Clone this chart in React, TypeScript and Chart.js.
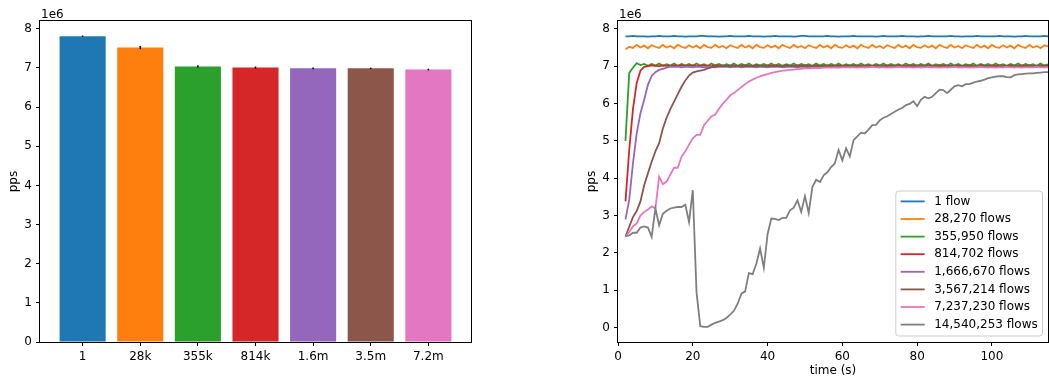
import React, { useEffect, useRef } from 'react';
import { Chart, registerables } from 'chart.js';

Chart.register(...registerables);

const FONT = '"DejaVu Sans", sans-serif';
const TAB10 = ['#1f77b4', '#ff7f0e', '#2ca02c', '#d62728', '#9467bd', '#8c564b', '#e377c2', '#7f7f7f'];

// ---- Left panel: mean throughput per flow count (millions of packets / s) ----
const barLabels = ['1', '28k', '355k', '814k', '1.6m', '3.5m', '7.2m'];
const barMeans = [7.81, 7.52, 7.04, 7.01, 6.99, 6.99, 6.96];
const barErrors = [0.005, 0.03, 0.015, 0.015, 0.01, 0.005, 0.008];

// ---- Right panel: throughput over time, one sample per second from t = 2 s ----
const flowLabels = [
  '1 flow',
  '28,270 flows',
  '355,950 flows',
  '814,702 flows',
  '1,666,670 flows',
  '3,567,214 flows',
  '7,237,230 flows',
  '14,540,253 flows',
];
const firstSecond = 2;

const pps1 = [
  7.80, 7.80, 7.81, 7.80, 7.80, 7.80, 7.79, 7.80, 7.80, 7.81,
  7.80, 7.80, 7.80, 7.81, 7.80, 7.80, 7.79, 7.80, 7.80, 7.80,
  7.81, 7.81, 7.80, 7.80, 7.80, 7.79, 7.80, 7.80, 7.81, 7.80,
  7.80, 7.80, 7.80, 7.81, 7.80, 7.80, 7.80, 7.79, 7.80, 7.80,
  7.81, 7.80, 7.80, 7.80, 7.80, 7.79, 7.80, 7.81, 7.81, 7.80,
  7.80, 7.80, 7.80, 7.80, 7.81, 7.80, 7.80, 7.79, 7.80, 7.80,
  7.80, 7.81, 7.80, 7.80, 7.80, 7.80, 7.80, 7.79, 7.80, 7.81,
  7.80, 7.80, 7.80, 7.80, 7.81, 7.80, 7.80, 7.80, 7.79, 7.80,
  7.80, 7.81, 7.80, 7.80, 7.80, 7.80, 7.80, 7.81, 7.80, 7.80,
  7.79, 7.80, 7.80, 7.80, 7.81, 7.80, 7.80, 7.80, 7.80, 7.80,
  7.81, 7.80, 7.80, 7.80, 7.79, 7.80, 7.80, 7.81, 7.80, 7.80,
  7.80, 7.80, 7.81, 7.80,
];
const pps28k = [
  7.45, 7.52, 7.49, 7.57, 7.50, 7.55, 7.48, 7.56, 7.52, 7.49,
  7.57, 7.50, 7.54, 7.48, 7.57, 7.52, 7.49, 7.56, 7.50, 7.55,
  7.48, 7.57, 7.51, 7.49, 7.57, 7.50, 7.54, 7.48, 7.56, 7.52,
  7.49, 7.57, 7.50, 7.55, 7.48, 7.57, 7.51, 7.49, 7.56, 7.50,
  7.55, 7.48, 7.57, 7.52, 7.49, 7.57, 7.50, 7.54, 7.48, 7.56,
  7.52, 7.49, 7.57, 7.50, 7.55, 7.48, 7.57, 7.51, 7.49, 7.56,
  7.50, 7.55, 7.48, 7.57, 7.52, 7.49, 7.57, 7.50, 7.54, 7.48,
  7.56, 7.52, 7.49, 7.57, 7.50, 7.55, 7.48, 7.57, 7.51, 7.49,
  7.56, 7.50, 7.55, 7.48, 7.57, 7.52, 7.49, 7.57, 7.50, 7.54,
  7.48, 7.56, 7.52, 7.49, 7.57, 7.50, 7.55, 7.48, 7.57, 7.51,
  7.49, 7.56, 7.50, 7.55, 7.48, 7.57, 7.52, 7.49, 7.57, 7.50,
  7.54, 7.48, 7.56, 7.53,
];
const pps355k = [
  5.00, 6.82, 6.96, 7.08, 7.03, 7.06, 7.01, 7.06, 7.02, 7.07,
  7.01, 7.05, 7.02, 7.07, 7.01, 7.06, 7.02, 7.06, 7.01, 7.07,
  7.02, 7.05, 7.01, 7.07, 7.02, 7.06, 7.01, 7.05, 7.02, 7.07,
  7.01, 7.06, 7.02, 7.07, 7.01, 7.05, 7.02, 7.06, 7.01, 7.07,
  7.02, 7.06, 7.01, 7.05, 7.02, 7.07, 7.01, 7.06, 7.02, 7.05,
  7.01, 7.07, 7.02, 7.06, 7.01, 7.06, 7.02, 7.07, 7.01, 7.05,
  7.02, 7.06, 7.01, 7.07, 7.02, 7.05, 7.01, 7.06, 7.02, 7.07,
  7.01, 7.06, 7.02, 7.05, 7.01, 7.07, 7.02, 7.06, 7.01, 7.06,
  7.02, 7.07, 7.01, 7.05, 7.02, 7.06, 7.01, 7.07, 7.02, 7.06,
  7.01, 7.05, 7.02, 7.07, 7.01, 7.06, 7.02, 7.06, 7.01, 7.07,
  7.02, 7.05, 7.01, 7.06, 7.02, 7.07, 7.01, 7.06, 7.02, 7.05,
  7.01, 7.07, 7.02, 7.05,
];
const pps814k = [
  3.38, 4.75, 5.85, 6.55, 6.88, 6.98, 7.00, 7.02, 7.01, 7.00,
  7.02, 7.01, 7.00, 7.02, 7.01, 7.02, 7.00, 7.01, 7.02, 7.00,
  7.01, 7.02, 7.01, 7.00, 7.02, 7.01, 7.02, 7.00, 7.01, 7.02,
  7.00, 7.01, 7.02, 7.01, 7.00, 7.02, 7.01, 7.00, 7.02, 7.01,
  7.02, 7.00, 7.01, 7.02, 7.01, 7.00, 7.02, 7.01, 7.02, 7.00,
  7.01, 7.02, 7.00, 7.01, 7.02, 7.01, 7.00, 7.02, 7.01, 7.02,
  7.00, 7.01, 7.02, 7.01, 7.00, 7.02, 7.01, 7.02, 7.00, 7.01,
  7.02, 7.01, 7.00, 7.02, 7.01, 7.00, 7.02, 7.01, 7.02, 7.00,
  7.01, 7.02, 7.01, 7.00, 7.02, 7.01, 7.02, 7.00, 7.01, 7.02,
  7.00, 7.01, 7.02, 7.01, 7.00, 7.02, 7.01, 7.00, 7.02, 7.01,
  7.02, 7.00, 7.01, 7.02, 7.01, 7.00, 7.02, 7.01, 7.02, 7.00,
  7.01, 7.02, 7.01, 7.02,
];
const pps1_6m = [
  2.90, 3.42, 4.40, 5.20, 5.74, 6.10, 6.50, 6.74, 6.84, 6.90,
  6.93, 6.96, 6.99, 6.98, 6.99, 6.97, 6.99, 6.98, 6.97, 6.99,
  6.98, 6.97, 6.99, 6.98, 6.97, 6.99, 6.98, 6.99, 6.97, 6.98,
  6.99, 6.97, 6.98, 6.99, 6.98, 6.97, 6.99, 6.98, 6.97, 6.99,
  6.98, 6.99, 6.97, 6.98, 6.99, 6.98, 6.97, 6.99, 6.98, 6.97,
  6.99, 6.98, 6.99, 6.97, 6.98, 6.99, 6.98, 6.97, 6.99, 6.98,
  6.97, 6.99, 6.98, 6.99, 6.97, 6.98, 6.99, 6.98, 6.97, 6.99,
  6.98, 6.97, 6.99, 6.98, 6.99, 6.97, 6.98, 6.99, 6.98, 6.97,
  6.99, 6.98, 6.97, 6.99, 6.98, 6.99, 6.97, 6.98, 6.99, 6.98,
  6.97, 6.99, 6.98, 6.97, 6.99, 6.98, 6.99, 6.97, 6.98, 6.99,
  6.98, 6.97, 6.99, 6.98, 6.97, 6.99, 6.98, 6.99, 6.97, 6.98,
  6.99, 6.98, 6.97, 6.99,
];
const pps3_5m = [
  2.44, 2.70, 2.96, 3.12, 3.38, 3.81, 4.13, 4.44, 4.72, 4.94,
  5.33, 5.62, 5.85, 6.05, 6.25, 6.45, 6.62, 6.75, 6.83, 6.86,
  6.88, 6.90, 6.94, 6.97, 6.99, 7.00, 7.00, 7.01, 7.00, 7.00,
  7.01, 7.00, 7.00, 7.01, 7.00, 7.00, 7.01, 7.00, 7.01, 7.00,
  7.00, 7.01, 7.00, 7.00, 7.01, 7.00, 7.00, 7.01, 7.00, 7.00,
  7.01, 7.00, 7.00, 7.01, 7.00, 7.01, 7.00, 7.00, 7.01, 7.00,
  7.00, 7.01, 7.00, 7.00, 7.01, 7.00, 7.00, 7.01, 7.00, 7.01,
  7.00, 7.00, 7.01, 7.00, 7.00, 7.01, 7.00, 7.00, 7.01, 7.00,
  7.01, 7.00, 7.00, 7.01, 7.00, 7.00, 7.01, 7.00, 7.01, 7.00,
  7.00, 7.01, 7.00, 7.00, 7.01, 7.00, 7.00, 7.01, 7.00, 7.00,
  7.01, 7.00, 7.01, 7.00, 7.00, 7.01, 7.00, 7.00, 7.01, 7.00,
  7.00, 7.01, 7.00, 7.00,
];
const pps7_2m = [
  2.44, 2.56, 2.71, 2.79, 3.00, 3.10, 3.16, 3.25, 3.19, 4.04,
  3.84, 3.91, 4.10, 4.28, 4.28, 4.58, 4.72, 4.90, 5.07, 5.16,
  5.16, 5.42, 5.54, 5.66, 5.70, 5.86, 5.99, 6.10, 6.22, 6.28,
  6.36, 6.44, 6.52, 6.59, 6.64, 6.69, 6.73, 6.76, 6.79, 6.82,
  6.84, 6.86, 6.88, 6.89, 6.90, 6.91, 6.92, 6.93, 6.94, 6.94,
  6.95, 6.95, 6.95, 6.96, 6.96, 6.96, 6.97, 6.96, 6.97, 6.97,
  6.97, 6.97, 6.96, 6.97, 6.97, 6.97, 6.98, 6.97, 6.97, 6.97,
  6.96, 6.97, 6.97, 6.98, 6.97, 6.97, 6.97, 6.96, 6.97, 6.97,
  6.97, 6.98, 6.97, 6.97, 6.96, 6.97, 6.97, 6.97, 6.98, 6.97,
  6.97, 6.97, 6.96, 6.97, 6.97, 6.98, 6.97, 6.97, 6.97, 6.96,
  6.97, 6.97, 6.98, 6.97, 6.97, 6.97, 6.96, 6.97, 6.97, 6.97,
  6.98, 6.97, 6.97, 6.97,
];
const pps14_5m = [
  2.45, 2.47, 2.54, 2.54, 2.68, 2.71, 2.68, 2.43, 3.19, 2.74,
  3.05, 3.13, 3.19, 3.21, 3.23, 3.23, 3.29, 2.83, 3.68, 0.95,
  0.04, 0.02, 0.02, 0.08, 0.13, 0.16, 0.20, 0.26, 0.35, 0.45,
  0.64, 0.91, 0.97, 1.46, 1.43, 1.71, 2.12, 1.60, 2.50, 2.92,
  2.91, 2.88, 2.94, 2.94, 3.14, 3.21, 3.41, 3.10, 3.52, 3.07,
  3.77, 3.96, 3.90, 4.08, 4.16, 4.30, 4.40, 4.76, 4.48, 4.80,
  4.58, 5.02, 5.12, 5.22, 5.20, 5.30, 5.42, 5.43, 5.55, 5.62,
  5.66, 5.72, 5.78, 5.84, 5.88, 5.96, 5.99, 6.06, 5.93, 6.10,
  6.18, 6.14, 6.18, 6.28, 6.37, 6.36, 6.28, 6.37, 6.46, 6.49,
  6.46, 6.52, 6.52, 6.56, 6.59, 6.61, 6.64, 6.68, 6.70, 6.72,
  6.73, 6.73, 6.71, 6.70, 6.76, 6.78, 6.79, 6.80, 6.81, 6.81,
  6.82, 6.83, 6.84, 6.84,
];
const flowSeries = [pps1, pps28k, pps355k, pps814k, pps1_6m, pps3_5m, pps7_2m, pps14_5m];

const tickFont = { family: FONT, size: 12 };
const tickGrid = {
  display: true,
  drawOnChartArea: false,
  drawTicks: true,
  tickLength: 4,
  tickColor: '#000',
  tickWidth: 1,
  offset: false,
};

// Black box around the plotting area (all four sides)
const framePlugin = {
  id: 'frame',
  afterDatasetsDraw(chart: any) {
    const { ctx, chartArea: a } = chart;
    ctx.save();
    ctx.strokeStyle = '#000';
    ctx.lineWidth = 1;
    ctx.strokeRect(a.left - 0.5, a.top - 0.5, a.right - a.left + 1, a.bottom - a.top + 1);
    ctx.restore();
  },
};

// Axis titles and the "1e6" multiplier above the y axis
function axisTextPlugin(yTitle: string, multiplier: string, xTitle?: string) {
  return {
    id: 'axisText',
    afterDraw(chart: any) {
      const { ctx, chartArea: a } = chart;
      ctx.save();
      ctx.fillStyle = '#000';
      ctx.font = `12px ${FONT}`;
      ctx.textAlign = 'left';
      ctx.textBaseline = 'alphabetic';
      ctx.fillText(multiplier, a.left + 1, a.top - 3.5);
      if (xTitle) {
        ctx.textAlign = 'center';
        ctx.textBaseline = 'middle';
        ctx.fillText(xTitle, (a.left + a.right) / 2, a.bottom + 29);
      }
      ctx.translate(a.left - 26, (a.top + a.bottom) / 2);
      ctx.rotate(-Math.PI / 2);
      ctx.textAlign = 'center';
      ctx.textBaseline = 'middle';
      ctx.fillText(yTitle, 0, 0);
      ctx.restore();
    },
  };
}

// Vertical error bars on top of each bar
const errorBarPlugin = {
  id: 'errorBars',
  afterDatasetsDraw(chart: any) {
    const { ctx, scales } = chart;
    ctx.save();
    ctx.strokeStyle = '#000';
    ctx.lineWidth = 1.5;
    barMeans.forEach((m, i) => {
      const x = scales.x.getPixelForValue(i);
      const y1 = scales.y.getPixelForValue(m - barErrors[i]);
      const y2 = scales.y.getPixelForValue(m + barErrors[i]);
      ctx.beginPath();
      ctx.moveTo(x, y1 + 0.5);
      ctx.lineTo(x, y2 - 0.5);
      ctx.stroke();
    });
    ctx.restore();
  },
};

// Framed legend in the lower-right corner of the time-series axes
const flowLegendPlugin = {
  id: 'flowLegend',
  afterDraw(chart: any) {
    const { ctx, chartArea: a } = chart;
    const sets = chart.data.datasets;
    ctx.save();
    ctx.font = `12px ${FONT}`;
    const textW = Math.max(...sets.map((d: any) => ctx.measureText(d.label).width));
    const pad = 4.8;
    const handle = 24;
    const gap = 9.6;
    const rowH = 17.6;
    const w = pad + handle + gap + textW + pad;
    const h = sets.length * rowH + 4.2;
    const right = a.right - 5.5;
    const bottom = a.bottom - 6;
    const left = right - w;
    const top = bottom - h;
    ctx.beginPath();
    ctx.roundRect(left, top, w, h, 3);
    ctx.fillStyle = 'rgba(255,255,255,0.8)';
    ctx.fill();
    ctx.strokeStyle = '#cccccc';
    ctx.lineWidth = 1;
    ctx.stroke();
    sets.forEach((d: any, i: number) => {
      const cy = top + 1.6 + rowH * (i + 0.5);
      ctx.strokeStyle = d.borderColor;
      ctx.lineWidth = 1.8;
      ctx.beginPath();
      ctx.moveTo(left + pad, cy);
      ctx.lineTo(left + pad + handle, cy);
      ctx.stroke();
      ctx.fillStyle = '#000';
      ctx.textAlign = 'left';
      ctx.textBaseline = 'middle';
      ctx.fillText(d.label, left + pad + handle + gap, cy);
    });
    ctx.restore();
  },
};

function barConfig(): any {
  return {
    type: 'bar',
    data: {
      datasets: [
        {
          data: barMeans.map((y, i) => ({ x: i, y })),
          backgroundColor: TAB10.slice(0, barMeans.length),
          borderWidth: 0,
          barPercentage: 0.8,
          categoryPercentage: 1,
        },
      ],
    },
    options: {
      animation: false,
      responsive: false,
      devicePixelRatio: 1,
      layout: { padding: { left: 0, right: 9, top: 21, bottom: 0 } },
      plugins: { legend: { display: false }, tooltip: { enabled: false } },
      scales: {
        x: {
          type: 'linear',
          min: -0.74,
          max: 6.74,
          offset: false,
          grid: tickGrid,
          border: { display: false },
          ticks: {
            stepSize: 1,
            includeBounds: false,
            autoSkip: false,
            maxRotation: 0,
            padding: 4,
            color: '#000',
            font: tickFont,
            callback: (v: number) => barLabels[v] ?? '',
          },
          afterFit: (s: any) => {
            s.height = 36;
          },
        },
        y: {
          min: 0,
          max: 8.2,
          grid: tickGrid,
          border: { display: false },
          ticks: { stepSize: 1, includeBounds: false, padding: 4, color: '#000', font: tickFont },
          afterFit: (s: any) => {
            s.width = 40;
          },
        },
      },
    },
    plugins: [errorBarPlugin, framePlugin, axisTextPlugin('pps', '1e6')],
  };
}

function lineConfig(): any {
  return {
    type: 'line',
    data: {
      datasets: flowSeries.map((series, i) => ({
        label: flowLabels[i],
        data: series.map((y, k) => ({ x: firstSecond + k, y })),
        borderColor: TAB10[i],
        backgroundColor: TAB10[i],
        borderWidth: 1.8,
        pointRadius: 0,
        tension: 0,
        fill: false,
        order: flowSeries.length - 1 - i,
      })),
    },
    options: {
      animation: false,
      responsive: false,
      devicePixelRatio: 1,
      layout: { padding: { left: 0, right: 1, top: 21, bottom: 0 } },
      plugins: { legend: { display: false }, tooltip: { enabled: false } },
      scales: {
        x: {
          type: 'linear',
          min: 0,
          max: 115,
          grid: tickGrid,
          border: { display: false },
          ticks: { stepSize: 20, includeBounds: false, maxRotation: 0, padding: 4, color: '#000', font: tickFont },
          afterFit: (s: any) => {
            s.height = 36;
          },
        },
        y: {
          min: -0.385,
          max: 8.21,
          grid: tickGrid,
          border: { display: false },
          ticks: { stepSize: 1, includeBounds: false, padding: 4, color: '#000', font: tickFont },
          afterFit: (s: any) => {
            s.width = 58;
          },
        },
      },
    },
    plugins: [framePlugin, flowLegendPlugin, axisTextPlugin('pps', '1e6', 'time (s)')],
  };
}

function ChartCanvas({ make, left, width }: { make: () => any; left: number; width: number }) {
  const ref = useRef<HTMLCanvasElement>(null);
  useEffect(() => {
    const chart = new Chart(ref.current as HTMLCanvasElement, make());
    return () => chart.destroy();
  }, [make]);
  return (
    <canvas
      ref={ref}
      width={width}
      height={378}
      style={{ position: 'absolute', left, top: 0, width, height: 378 }}
    />
  );
}

export default function App() {
  return (
    <div style={{ position: 'absolute', left: 0, top: 0, width: 1049, height: 378, background: '#fff', overflow: 'hidden' }}>
      <ChartCanvas make={barConfig} left={0} width={480} />
      <ChartCanvas make={lineConfig} left={560} width={489} />
    </div>
  );
}
